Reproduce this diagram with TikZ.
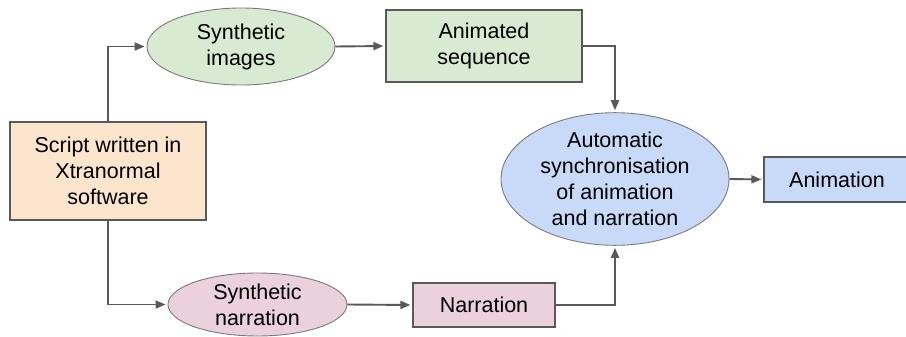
\documentclass[tikz,border=0pt]{standalone}
\usepackage{fontspec}
\setmainfont{Liberation Sans}
\usetikzlibrary{shapes.geometric,arrows.meta}
\definecolor{orangebox}{HTML}{FCE5CD}
\definecolor{greenbox}{HTML}{D9EAD3}
\definecolor{pinkbox}{HTML}{EAD1DC}
\definecolor{bluebox}{HTML}{C9DAF8}
\definecolor{edge}{HTML}{595959}
\begin{document}
\begin{tikzpicture}[x=1pt, y=-1pt,
  every node/.style = {font=\fontsize{21.5}{26}\selectfont, align=center, inner sep=0pt},
  rectbox/.style = {draw=edge, line width=1.2pt, rectangle},
  ellbox/.style = {draw=edge!80, line width=0.9pt, ellipse},
  arr/.style = {draw=edge, line width=1.9pt, -{Triangle[length=10pt, width=8pt]}, shorten >=2pt}]
\useasboundingbox (0,0) rectangle (906,337);

\node[rectbox, fill=orangebox, minimum width=196pt, minimum height=98pt] (script) at (108,171) {Script written in\\Xtranormal\\software};

\node[ellbox, fill=greenbox, minimum width=188pt, minimum height=77pt] (synimg) at (241,46.5) {Synthetic\\images};
\node[rectbox, fill=greenbox, minimum width=196pt, minimum height=72pt] (animseq) at (484,46) {Animated\\sequence};

\node[ellbox, fill=pinkbox, minimum width=179pt, minimum height=63pt] (synnarr) at (257.5,304.5) {Synthetic\\narration};
\node[rectbox, fill=pinkbox, minimum width=142pt, minimum height=44pt] (narr) at (484,305) {Narration};

\node[ellbox, fill=bluebox, minimum width=228pt, minimum height=130pt] (sync) at (615,179) {Automatic\\synchronisation\\of animation\\and narration};
\node[rectbox, fill=bluebox, minimum width=146pt, minimum height=45pt] (anim) at (837,179.5) {Animation};

\draw[arr] (script.north) |- (synimg.west);
\draw[arr] (script.south) |- (synnarr.west);
\draw[arr] (synimg.east) -- (animseq.west);
\draw[arr] (synnarr.east) -- (narr.west);
\draw[arr] (animseq.east) -| (sync.north);
\draw[arr] (narr.east) -| (sync.south);
\draw[arr] (sync.east) -- (anim.west);
\end{tikzpicture}
\end{document}
